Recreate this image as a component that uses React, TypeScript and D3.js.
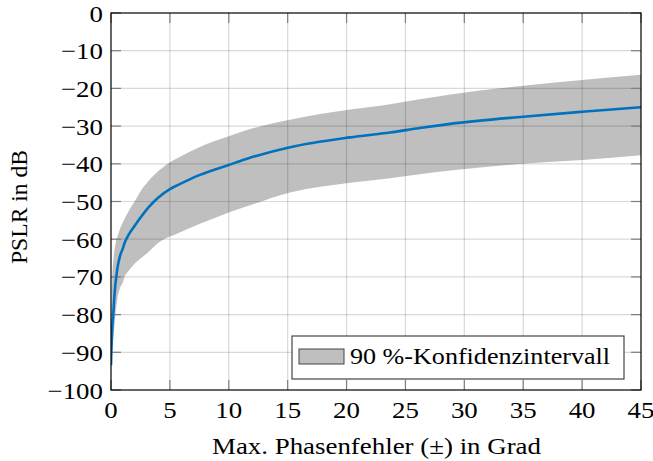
import React from "react";
import * as d3 from "d3";

const phaseErr = [0, 0.03, 0.1, 0.19, 0.27, 0.37, 0.45, 0.53, 0.76, 1, 1.15, 1.47, 2, 2.57, 3.2, 4, 5, 5.7, 7.5, 10, 11.8, 15.2, 20.3, 23.7, 26.2, 28.8, 35, 40, 45];
const pslrMean = [-93.4, -90, -84, -80, -76, -72, -70, -68, -64.5, -62.5, -61, -59, -56.5, -54, -51.5, -49, -46.7, -45.6, -43, -40.3, -38.4, -35.6, -33, -31.7, -30.5, -29.4, -27.5, -26.2, -25];
const pslrLower = [-95, -92.5, -89, -86.5, -84, -80, -78, -76, -73, -71.5, -70, -68.5, -66.5, -65, -63.3, -61, -59.3, -58.4, -56, -52.9, -51, -47.6, -45, -43.8, -42.8, -41.8, -40, -39, -37.7];
const pslrUpper = [-90, -82, -71, -66, -63.5, -61.5, -60.3, -59.5, -57.3, -55.6, -54.6, -52.7, -50, -47, -44.5, -42, -39.6, -38.4, -35.6, -32.7, -30.8, -28.3, -25.6, -24.2, -22.9, -21.6, -19.3, -17.8, -16.4];

const xTicks = [0, 5, 10, 15, 20, 25, 30, 35, 40, 45];
const yTicks = [0, -10, -20, -30, -40, -50, -60, -70, -80, -90, -100];

const W = 653, H = 461;
const L = 111, R = 641, T = 13, B = 390;
const FONT = "'Liberation Serif', 'DejaVu Serif', serif";
const FS = 24;
const SX = 1.12;

export default function App() {
  const x = d3.scaleLinear().domain([0, 45]).range([L, R]);
  const y = d3.scaleLinear().domain([-100, 0]).range([B, T]);
  const idx = phaseErr.map((_, i) => i);
  const area = d3.area<number>()
    .x(i => x(phaseErr[i]))
    .y0(i => y(pslrLower[i]))
    .y1(i => y(pslrUpper[i]))
    .curve(d3.curveMonotoneX);
  const line = d3.line<number>()
    .x(i => x(phaseErr[i]))
    .y(i => y(pslrMean[i]))
    .curve(d3.curveMonotoneX);
  const fmt = (v: number) => (v < 0 ? "\u2212" + Math.abs(v) : String(v));
  const tl = 10;
  return (
    <svg width={W} height={H} style={{ position: "absolute", left: 0, top: 0, display: "block", background: "#fff" }}>
      <defs>
        <clipPath id="plot"><rect x={L} y={T} width={R - L} height={B - T} /></clipPath>
      </defs>
      <g clipPath="url(#plot)">
        <path d={area(idx) || ""} fill="#bfbfbf" stroke="none" />
      </g>
      {xTicks.slice(1, -1).map(t => (
        <line key={"gx" + t} x1={x(t)} x2={x(t)} y1={T} y2={B} stroke="#000" strokeOpacity={0.15} strokeWidth={1.2} />
      ))}
      {yTicks.slice(1, -1).map(t => (
        <line key={"gy" + t} x1={L} x2={R} y1={y(t)} y2={y(t)} stroke="#000" strokeOpacity={0.15} strokeWidth={1.2} />
      ))}
      {xTicks.map(t => (
        <g key={"tx" + t}>
          <line x1={x(t)} x2={x(t)} y1={B} y2={B - tl} stroke="#7f7f7f" strokeWidth={1.2} />
          <line x1={x(t)} x2={x(t)} y1={T} y2={T + tl} stroke="#7f7f7f" strokeWidth={1.2} />
        </g>
      ))}
      {yTicks.map(t => (
        <g key={"ty" + t}>
          <line x1={L} x2={L + tl} y1={y(t)} y2={y(t)} stroke="#7f7f7f" strokeWidth={1.2} />
          <line x1={R} x2={R - tl} y1={y(t)} y2={y(t)} stroke="#7f7f7f" strokeWidth={1.2} />
        </g>
      ))}
      <g clipPath="url(#plot)">
        <path d={line(idx) || ""} fill="none" stroke="#0072BD" strokeWidth={2.6} strokeLinejoin="round" />
      </g>
      <rect x={L} y={T} width={R - L} height={B - T} fill="none" stroke="#000" strokeWidth={1.2} />
      {xTicks.map(t => (
        <text key={"lx" + t} transform={`translate(${x(t)},418) scale(${SX},1)`} textAnchor="middle" fontFamily={FONT} fontSize={FS} fill="#000">{fmt(t)}</text>
      ))}
      {yTicks.map(t => (
        <text key={"ly" + t} transform={`translate(103,${y(t) + 8.5}) scale(${SX},1)`} textAnchor="end" fontFamily={FONT} fontSize={FS} fill="#000">{fmt(t)}</text>
      ))}
      <text x={376.5} y={454} textAnchor="middle" fontFamily={FONT} fontSize={FS} fill="#000" textLength={329} lengthAdjust="spacingAndGlyphs">Max. Phasenfehler (±) in Grad</text>
      <text transform={`translate(27, 207) rotate(-90)`} textAnchor="middle" fontFamily={FONT} fontSize={FS} fill="#000" textLength={114} lengthAdjust="spacingAndGlyphs">PSLR in dB</text>
      <rect x={292} y={336} width={332} height={43} fill="#fff" stroke="#444" strokeWidth={1.2} />
      <rect x={299} y={349} width={45} height={15} fill="#bfbfbf" stroke="#444" strokeWidth={1} />
      <text x={350} y={364} fontFamily={FONT} fontSize={FS} fill="#000" textLength={260} lengthAdjust="spacingAndGlyphs">90 %-Konfidenzintervall</text>
    </svg>
  );
}
